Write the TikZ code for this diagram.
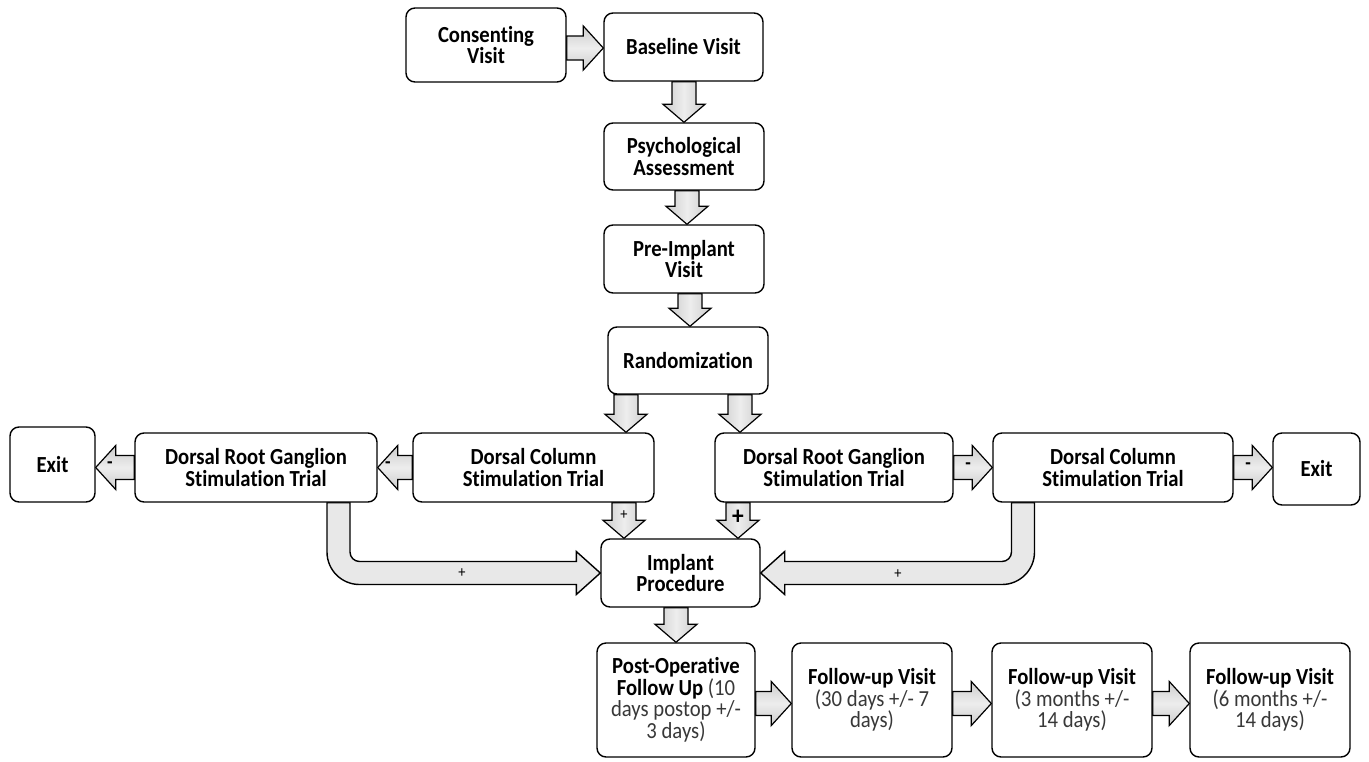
\documentclass[tikz,border=0pt]{standalone}
\usepackage{fontspec}
\setmainfont{Carlito}[Ligatures=NoCommon, FakeStretch=0.9]
\usetikzlibrary{calc,backgrounds}
\tikzset{
 box/.style={draw, line width=1.4pt, rounded corners=9pt, fill=white, align=center, inner sep=2pt, font=\fontsize{23}{21.5}\selectfont\bfseries},
 blkH/.style={draw, line width=1.2pt, top color=gray!40, bottom color=gray!40, middle color=gray!14},
 blkV/.style={draw, line width=1.2pt, left color=gray!40, right color=gray!40, middle color=gray!14},
 bigarr/.style={draw, line width=1.4pt, fill=gray!18},
 sign/.style={font=\fontsize{20}{20}\selectfont\bfseries, inner sep=0pt},
 plus/.style={font=\fontsize{16}{16}\selectfont, inner sep=0pt},
}
\newcommand\blkR[2]{\draw[blkH] (#2) -- ($(#2)+(-20,-22)$) -- ($(#2)+(-20,-12)$) -- ($(#1 |- #2)+(0,-12)$) -- ($(#1 |- #2)+(0,12)$) -- ($(#2)+(-20,12)$) -- ($(#2)+(-20,22)$) -- cycle;}
\newcommand\blkL[2]{\draw[blkH] (#2) -- ($(#2)+(20,-22)$) -- ($(#2)+(20,-12)$) -- ($(#1 |- #2)+(0,-12)$) -- ($(#1 |- #2)+(0,12)$) -- ($(#2)+(20,12)$) -- ($(#2)+(20,22)$) -- cycle;}
\newcommand\blkD[2]{\draw[blkV] (#2) -- ($(#2)+(-21,-18)$) -- ($(#2)+(-12,-18)$) -- ($(#2 |- #1)+(-12,0)$) -- ($(#2 |- #1)+(12,0)$) -- ($(#2)+(12,-18)$) -- ($(#2)+(21,-18)$) -- cycle;}
\newcommand\lt[1]{{\mdseries\color{black!78}#1}}
\begin{document}
\begin{tikzpicture}[x=1pt,y=-1pt]
\useasboundingbox (0,0) rectangle (1369,761);
% boxes
\node[box, minimum width=160pt, minimum height=74pt] (cons) at (486,45) {Consenting\\Visit};
\node[box, minimum width=159pt, minimum height=68pt] (base) at (683.5,47) {Baseline Visit};
\node[box, minimum width=160pt, minimum height=67pt] (psych) at (684,156.5) {Psychological\\Assessment};
\node[box, minimum width=160pt, minimum height=68pt] (pre) at (684,259) {Pre-Implant\\Visit};
\node[box, minimum width=160pt, minimum height=67pt] (rand) at (688,360.5) {Randomization};
\node[box, minimum width=85pt, minimum height=75pt] (exitL) at (52.5,464.5) {Exit};
\node[box, minimum width=242pt, minimum height=69pt] (drgL) at (256,467.5) {Dorsal Root Ganglion\\Stimulation Trial};
\node[box, minimum width=241pt, minimum height=69pt] (dcL) at (533.5,467.5) {Dorsal Column\\Stimulation Trial};
\node[box, minimum width=238pt, minimum height=69pt] (drgR) at (834,467.5) {Dorsal Root Ganglion\\Stimulation Trial};
\node[box, minimum width=240pt, minimum height=69pt] (dcR) at (1113,467.5) {Dorsal Column\\Stimulation Trial};
\node[box, minimum width=87pt, minimum height=72pt] (exitR) at (1316.5,469) {Exit};
\node[box, minimum width=159pt, minimum height=68pt] (impl) at (680.5,573) {Implant\\Procedure};
\node[box, minimum width=158pt, minimum height=114pt] (post) at (676,700) {Post-Operative\\Follow Up \lt{(10}\\\lt{days postop +/-}\\\lt{3 days)}};
\node[box, minimum width=160pt, minimum height=114pt] (fu1) at (872,700) {Follow-up Visit\\\lt{(30 days +/- 7}\\\lt{days)}};
\node[box, minimum width=160pt, minimum height=114pt] (fu2) at (1072,700) {Follow-up Visit\\\lt{(3 months +/-}\\\lt{14 days)}};
\node[box, minimum width=160pt, minimum height=114pt] (fu3) at (1270,700) {Follow-up Visit\\\lt{(6 months +/-}\\\lt{14 days)}};
% tip coordinates
\coordinate (t1) at ($(base.west)+(0,1)$);
\coordinate (t2) at ($(pre.north)+(3,0)$);
\coordinate (t3) at ($(rand.north)+(2,0)$);
\coordinate (t5) at ([xshift=-62pt]rand.south |- dcL.north);
\coordinate (t6) at ([xshift=52pt]rand.south |- drgR.north);
\coordinate (t7) at ([xshift=-56.5pt]impl.north);
\coordinate (t8) at ([xshift=57.5pt]impl.north);
\coordinate (t9) at (exitL.east |- drgL.east);
\coordinate (t10) at (exitR.west |- dcR.east);
\coordinate (t11) at ($(fu1.west)+(0,3.5)$);
\coordinate (t12) at ($(fu2.west)+(0,3.5)$);
\coordinate (t13) at ($(fu3.west)+(0,3.5)$);
\coordinate (LbS) at ([xshift=82.5pt]drgL.south);
\coordinate (RbS) at ([xshift=-90pt]dcR.south);
\begin{scope}[on background layer]
\blkR{cons.east}{t1}
\blkD{base.south}{psych.north}
\blkD{psych.south}{t2}
\blkD{pre.south}{t3}
\blkD{rand.south}{t5}
\blkD{rand.south}{t6}
\blkD{dcL.south}{t7}
\blkD{drgR.south}{t8}
\blkL{dcL.west}{drgL.east}
\blkL{drgL.west}{t9}
\blkR{drgR.east}{dcR.west}
\blkR{dcR.east}{t10}
\blkD{impl.south}{post.north}
\blkR{post.east}{t11}
\blkR{fu1.east}{t12}
\blkR{fu2.east}{t13}
% big bent arrows
\draw[bigarr] let \p1=(LbS), \p2=(impl.west) in
 (\x1-11.5pt,\y1) -- (\x1-11.5pt,\y2+21pt) arc[start angle=180, end angle=270, radius=32.5pt]
 -- (\x2-24pt,\y2-11.5pt) -- (\x2-24pt,\y2-21.5pt) -- (\x2,\y2) -- (\x2-24pt,\y2+21.5pt) -- (\x2-24pt,\y2+11.5pt)
 -- (\x1+21pt,\y2+11.5pt) arc[start angle=270, end angle=180, radius=9.5pt] -- (\x1+11.5pt,\y1) -- cycle;
\draw[bigarr] let \p1=(RbS), \p2=(impl.east) in
 (\x1+11.5pt,\y1) -- (\x1+11.5pt,\y2+21pt) arc[start angle=0, end angle=-90, radius=32.5pt]
 -- (\x2+24pt,\y2-11.5pt) -- (\x2+24pt,\y2-21.5pt) -- (\x2,\y2) -- (\x2+24pt,\y2+21.5pt) -- (\x2+24pt,\y2+11.5pt)
 -- (\x1-21pt,\y2+11.5pt) arc[start angle=-90, end angle=0, radius=9.5pt] -- (\x1-11.5pt,\y1) -- cycle;
\end{scope}
% labels
\node[sign] (m1) at (110,465) {-};
\node[sign] (m2) at (388,465) {-};
\node[sign] (m3) at (968,466) {-};
\node[sign] (m4) at (1248,466) {-};
\node[plus] (p1) at (624,515) {+};
\node[sign, font=\fontsize{26}{26}\selectfont\bfseries] (p2) at (738,517) {+};
\node[plus] (p3) at (462,573) {+};
\node[plus] (p4) at (898,574) {+};
\end{tikzpicture}
\end{document}
